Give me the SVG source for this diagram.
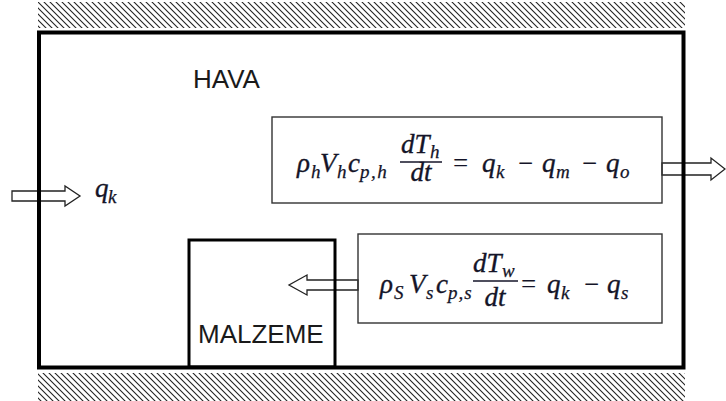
<svg xmlns="http://www.w3.org/2000/svg" width="726" height="401" viewBox="0 0 726 401">
  <defs>
    <pattern id="hatch" patternUnits="userSpaceOnUse" width="6" height="6">
      <path d="M-1,-1 L7,7 M-1,5 L1,7 M5,-1 L7,1" stroke="#222" stroke-width="1.1" fill="none"/>
    </pattern>
  </defs>
  <style>
    .lbl { font-family: "Liberation Sans", Arial, sans-serif; font-size: 26px; fill: #1a1a1a; }
    .m { font-family: "Liberation Serif", "Times New Roman", serif; font-style: italic; font-size: 27px; fill: #141428; stroke: #141428; stroke-width: 0.35; }
    .s { font-family: "Liberation Serif", "Times New Roman", serif; font-style: italic; font-size: 19px; fill: #141428; stroke: #141428; stroke-width: 0.25; }
    .op { font-family: "Liberation Serif", "Times New Roman", serif; font-size: 27px; fill: #141428; }
    .arrow { fill: #fff; stroke: #222; stroke-width: 1.3; stroke-linejoin: miter; }
    .eqbox { fill: none; stroke: #333; stroke-width: 1.4; }
    .thick { fill: none; stroke: #000; }
    .frac { stroke: #141428; stroke-width: 1.3; }
  </style>

  <g id="ground-top"><rect x="38" y="2" width="647" height="26" fill="url(#hatch)"/></g>
  <g id="ground-bottom"><rect x="38" y="373" width="647" height="28" fill="url(#hatch)"/></g>

  <g id="connectors">
    <polygon class="arrow" points="12,191 65,191 65,186 80,196 65,206 65,201 12,201"/>
    <polygon class="arrow" points="662,163 711,163 711,158 725,169 711,180 711,175 662,175"/>
    <polygon class="arrow" points="358,280 307,280 307,275 289,285 307,295 307,290 358,290"/>
  </g>

  <g id="hava">
    <rect class="thick" x="39" y="32.5" width="644.5" height="335" stroke-width="4"/>
    <text class="lbl" x="193" y="88">HAVA</text>
  </g>

  <g id="malzeme">
    <rect class="thick" x="189" y="240" width="146" height="127" stroke-width="3"/>
    <text class="lbl" x="198" y="343">MALZEME</text>
  </g>

  <g id="qk-label">
    <text class="m" x="95" y="197">q</text>
    <text class="s" x="108" y="203">k</text>
  </g>

  <g id="eq-hava">
    <rect class="eqbox" x="272" y="117" width="390" height="86"/>
    <text class="m" x="297" y="172">ρ</text>
    <text class="s" x="311" y="178">h</text>
    <text class="m" x="320" y="172">V</text>
    <text class="s" x="337" y="178">h</text>
    <text class="m" x="348" y="172">c</text>
    <text class="s" x="360" y="178" letter-spacing="1.5">p,h</text>
    <text class="m" x="401" y="153">dT</text>
    <text class="s" x="430" y="158">h</text>
    <line class="frac" x1="400" y1="162" x2="442" y2="162"/>
    <text class="m" x="421" y="181" text-anchor="middle">dt</text>
    <text class="op" x="453" y="172">=</text>
    <text class="m" x="482" y="172">q</text>
    <text class="s" x="496" y="178">k</text>
    <text class="op" x="518" y="172">−</text>
    <text class="m" x="542" y="172">q</text>
    <text class="s" x="556" y="178">m</text>
    <text class="op" x="582" y="172">−</text>
    <text class="m" x="606" y="172">q</text>
    <text class="s" x="620" y="178">o</text>
  </g>

  <g id="eq-malzeme">
    <rect class="eqbox" x="358" y="234" width="304" height="89"/>
    <text class="m" x="380" y="293">ρ</text>
    <text class="s" x="394" y="299">S</text>
    <text class="m" x="409" y="293">V</text>
    <text class="s" x="426" y="299">s</text>
    <text class="m" x="436" y="293">c</text>
    <text class="s" x="448" y="299" letter-spacing="1">p,s</text>
    <text class="m" x="473" y="272">dT</text>
    <text class="s" x="502" y="277">w</text>
    <line class="frac" x1="473" y1="281" x2="518" y2="281"/>
    <text class="m" x="495" y="306" text-anchor="middle">dt</text>
    <text class="op" x="521" y="293">=</text>
    <text class="m" x="547" y="293">q</text>
    <text class="s" x="561" y="299">k</text>
    <text class="op" x="584" y="293">−</text>
    <text class="m" x="607" y="293">q</text>
    <text class="s" x="621" y="299">s</text>
  </g>
</svg>
